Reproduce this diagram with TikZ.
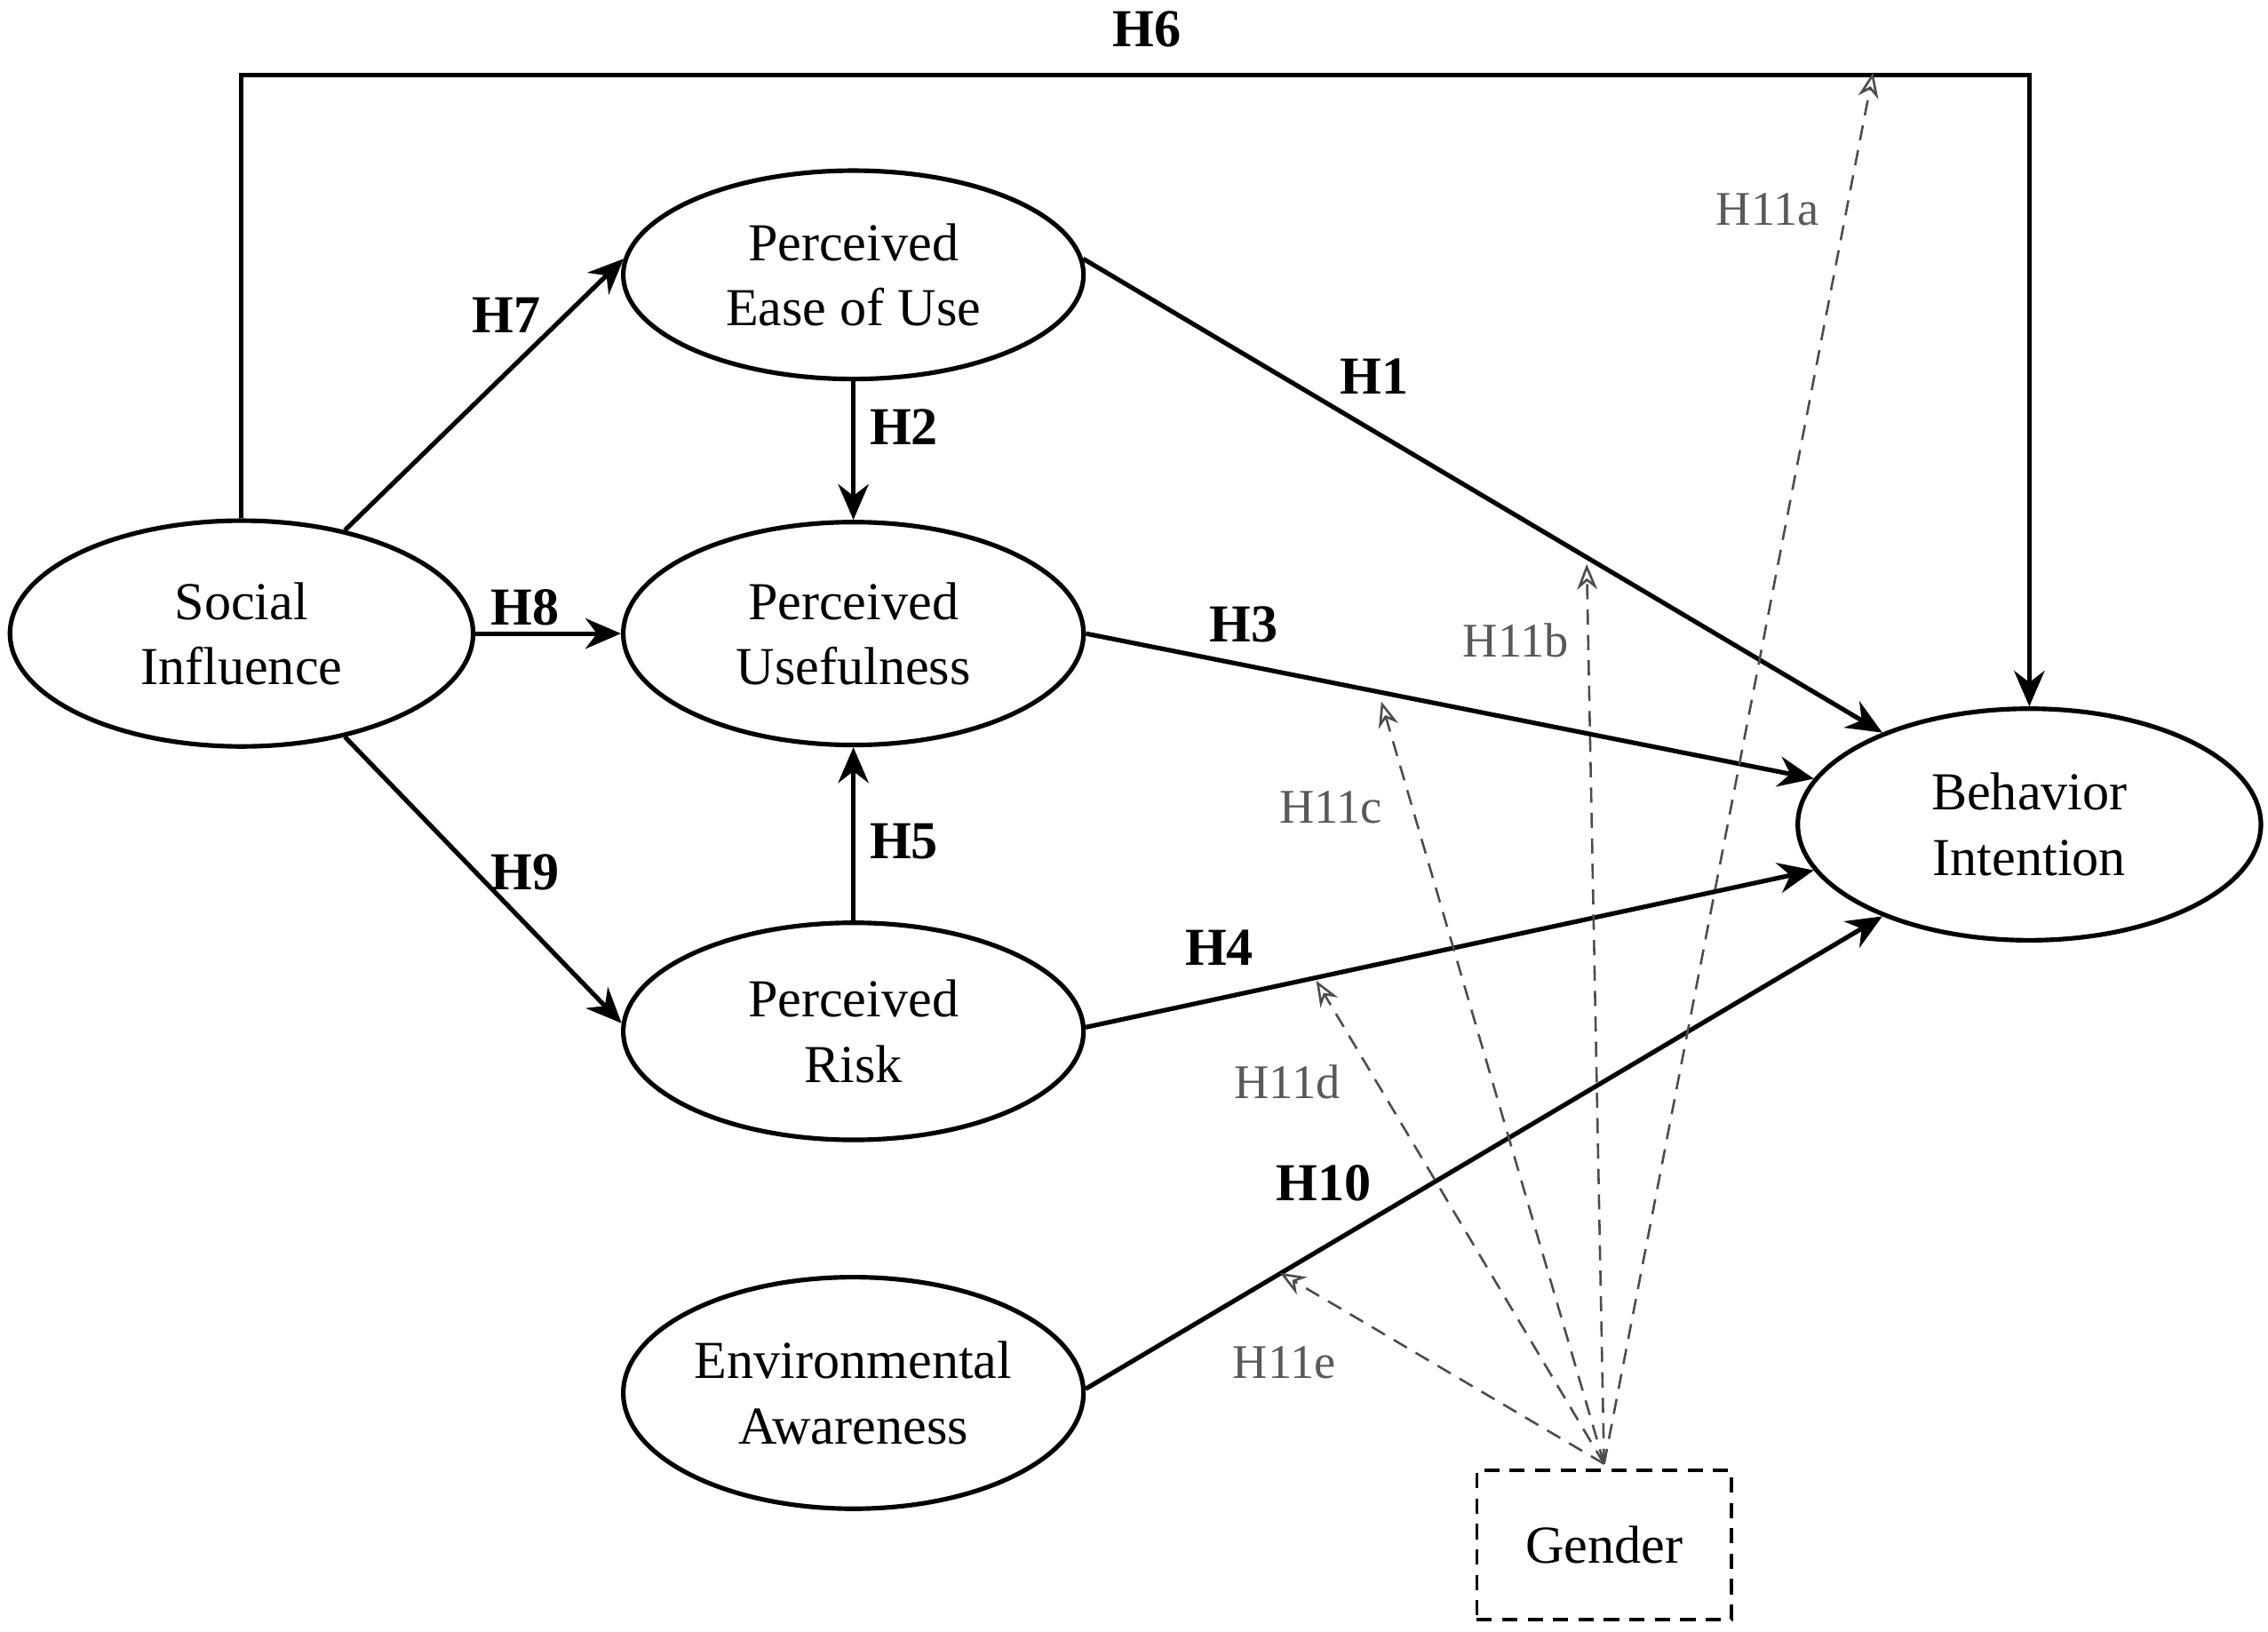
\documentclass[tikz,border=0pt]{standalone}
\usepackage{fontspec}
\setmainfont{Liberation Serif}
\usetikzlibrary{arrows.meta,shapes.geometric}
\begin{document}
\begin{tikzpicture}[x=0.01cm,y=-0.01cm,
  el/.style={ellipse,draw,line width=0.9pt,inner sep=0,minimum width=3.18cm,align=center,font=\fontsize{10.5}{12.8}\selectfont},
  arr/.style={line width=0.9pt,-{Stealth[length=7pt,width=6pt]}},
  darr/.style={gray!60!black,densely dashed,line width=0.45pt,-{Stealth[length=5pt,width=4pt,open]}},
  hl/.style={font=\fontsize{10.5}{12}\selectfont\bfseries},
  gl/.style={font=\fontsize{9.5}{11}\selectfont,text=gray!70!black}]
\useasboundingbox (0,0) rectangle (1568,1128);
\node[el,minimum width=3.2cm,minimum height=1.56cm] (SI) at (167,438) {Social\\Influence};
\node[el,minimum height=1.44cm] (PEOU) at (590,190) {Perceived\\Ease of Use};
\node[el,minimum height=1.54cm] (PU) at (590,438) {Perceived\\Usefulness};
\node[el,minimum height=1.5cm] (PR) at (590,713) {Perceived\\Risk};
\node[el,minimum height=1.6cm] (EA) at (590,963) {Environmental\\Awareness};
\node[el,minimum width=3.2cm,minimum height=1.6cm] (BI) at (1403,570) {Behavior\\Intention};
\node[draw,densely dashed,line width=0.6pt,minimum width=1.76cm,minimum height=1.03cm,font=\fontsize{10.5}{12.8}\selectfont] (G) at (1109,1068) {Gender};
\coordinate (top) at (0,52);
\draw[arr] (SI.north) -- (SI.north |- top) -| (BI.north);
\draw[arr] (SI.45) -- (PEOU.176);
\draw[arr] (PEOU.south) -- (PU.north);
\draw[arr] (SI.east) -- (PU.west);
\draw[arr] (SI.315) -- (PR.178);
\draw[arr] (PR.north) -- (PU.south);
\draw[arr] (PEOU.4) -- (BI.148);
\draw[arr] (PU.0) -- (BI.168);
\draw[arr] (PR.1) -- (BI.192);
\draw[arr] (EA.1) -- (BI.212);
\coordinate (a) at (1295,50);
\coordinate (b) at (1097,390);
\coordinate (c) at (955,485);
\coordinate (d) at (910,678);
\coordinate (e) at (885,880);
\coordinate (g) at (1109,1012);
\foreach \t in {a,b,c,d,e} \draw[darr] (g) -- (\t);
\node[hl] at (793,20) {H6};
\node[hl] at (350,218) {H7};
\node[hl] at (625,295) {H2};
\node[hl] at (363,420) {H8};
\node[hl] at (363,603) {H9};
\node[hl] at (625,582) {H5};
\node[hl] at (950,260) {H1};
\node[hl] at (860,432) {H3};
\node[hl] at (843,655) {H4};
\node[hl] at (915,818) {H10};
\node[gl] at (1222,145) {H11a};
\node[gl] at (1048,443) {H11b};
\node[gl] at (920,558) {H11c};
\node[gl] at (890,748) {H11d};
\node[gl] at (888,942) {H11e};
\end{tikzpicture}
\end{document}
